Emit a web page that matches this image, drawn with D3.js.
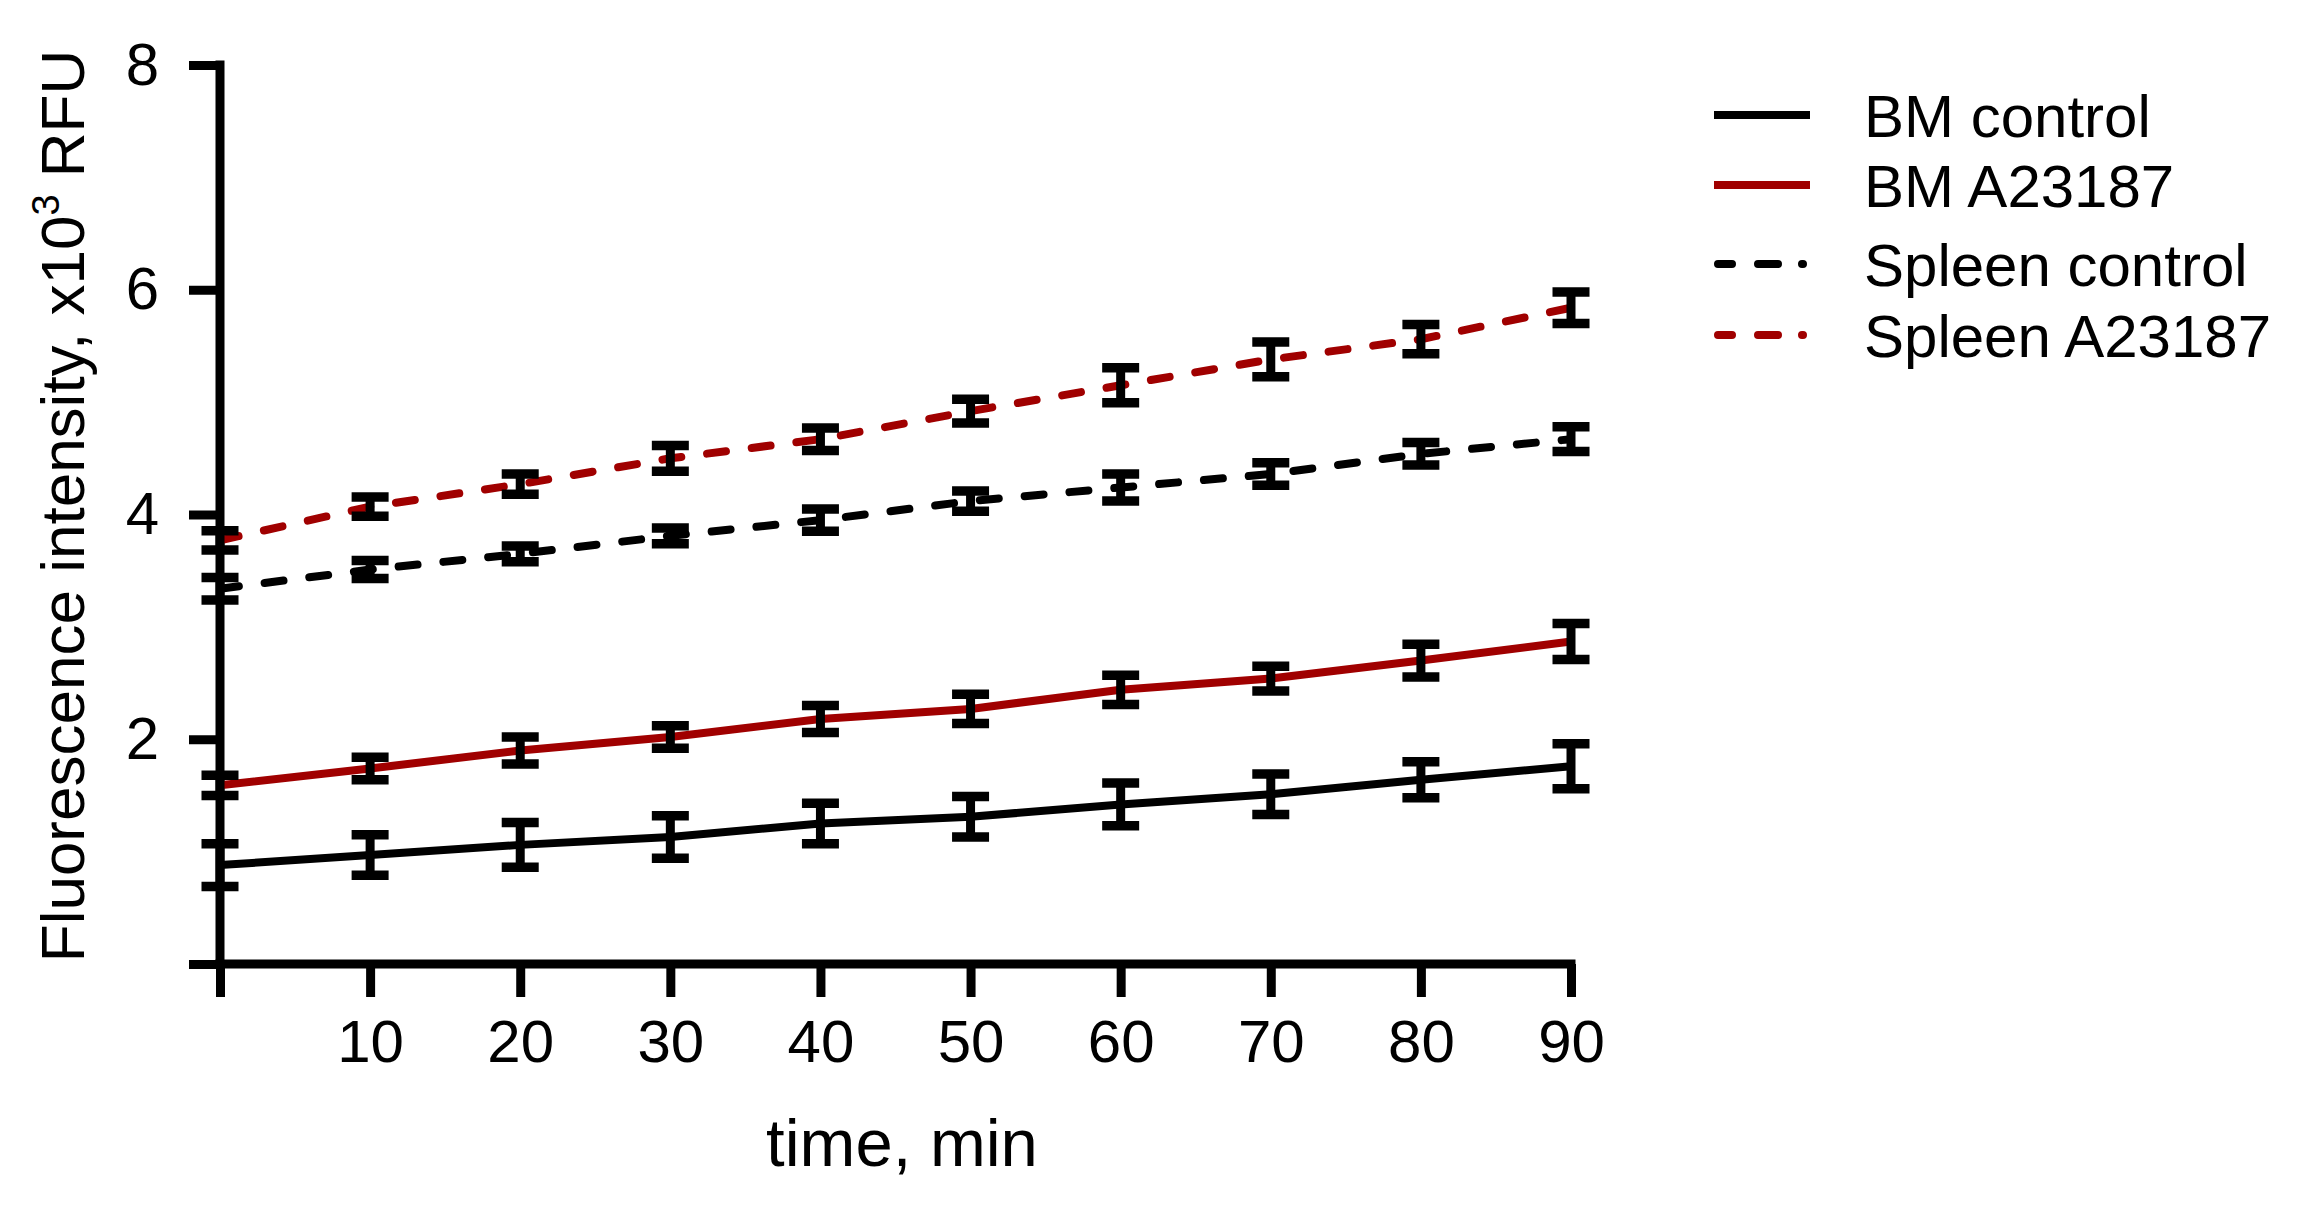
<!DOCTYPE html>
<html>
<head>
<meta charset="utf-8">
<script src="https://cdn.jsdelivr.net/npm/d3@7"></script>
<style>
  html, body { margin: 0; padding: 0; background: #fff; }
  svg { display: block; }
  text { font-family: "Liberation Sans", Arial, Helvetica, sans-serif; fill: #000; }
</style>
</head>
<body>
<svg id="chart" width="2298" height="1219"></svg>
<script>
// ---- data ----
const times = [0, 10, 20, 30, 40, 50, 60, 70, 80, 90];
const bmControl      = [0.88, 0.97, 1.06, 1.13, 1.25, 1.31, 1.42, 1.51, 1.64, 1.76];
const bmControlErr   = [0.19, 0.18, 0.20, 0.19, 0.18, 0.18, 0.19, 0.18, 0.16, 0.20];
const bmA23187       = [1.59, 1.74, 1.90, 2.02, 2.18, 2.27, 2.44, 2.54, 2.70, 2.87];
const bmA23187Err    = [0.09, 0.10, 0.12, 0.10, 0.12, 0.13, 0.13, 0.11, 0.145, 0.16];
const spleenControl  = [3.34, 3.51, 3.65, 3.81, 3.95, 4.12, 4.24, 4.36, 4.54, 4.67];
const spleenControlErr = [0.10, 0.08, 0.07, 0.07, 0.10, 0.09, 0.12, 0.10, 0.10, 0.11];
const spleenA23187   = [3.77, 4.07, 4.27, 4.50, 4.67, 4.92, 5.15, 5.38, 5.56, 5.84];
const spleenA23187Err = [0.085, 0.085, 0.09, 0.115, 0.10, 0.105, 0.155, 0.155, 0.13, 0.14];
const seriesNames = ["BM control", "BM A23187", "Spleen control", "Spleen A23187"];
const xTicks = [0, 10, 20, 30, 40, 50, 60, 70, 80, 90];
const yTicks = [0, 2, 4, 6, 8];
const xTitle = "time, min";

const seriesList = [
  { name: seriesNames[0], values: bmControl, err: bmControlErr, color: "#000000", dashed: false },
  { name: seriesNames[1], values: bmA23187, err: bmA23187Err, color: "#a00000", dashed: false },
  { name: seriesNames[2], values: spleenControl, err: spleenControlErr, color: "#000000", dashed: true },
  { name: seriesNames[3], values: spleenA23187, err: spleenA23187Err, color: "#a00000", dashed: true }
];

// ---- layout ----
const svg = d3.select("#chart");
const x = d3.scaleLinear().domain([0, 90]).range([220, 1571]);
const y = d3.scaleLinear().domain([0, 8]).range([964, 65]);
const AXW = 9, LW = 8, DASH = "19,26";

// axes
const gx = svg.append("g").attr("transform", `translate(0,${y(0)})`)
  .call(d3.axisBottom(x).tickValues(xTicks).tickSize(33).tickSizeOuter(0).tickPadding(22)
    .tickFormat(d => d === 0 ? "" : d));
const gy = svg.append("g").attr("transform", `translate(${x(0)},0)`)
  .call(d3.axisLeft(y).tickValues(yTicks).tickSize(31).tickSizeOuter(0).tickPadding(30)
    .tickFormat(d => d === 0 ? "" : d));
[gx, gy].forEach(g => {
  g.select(".domain").attr("stroke", "#000").attr("stroke-width", AXW);
  g.selectAll(".tick line").attr("stroke", "#000").attr("stroke-width", AXW);
  g.selectAll(".tick text").attr("font-size", 60).attr("fill", "#000")
    .style("font-family", '"Liberation Sans", Arial, sans-serif');
});
gx.select(".domain").attr("d", `M${x(0) - AXW/2},0H${x(90) + AXW/2}`);
gy.select(".domain").attr("d", `M0,${y(8) - AXW/2}V${y(0) + AXW/2}`);

// lines
const line = d3.line().x((d, i) => x(times[i])).y(d => y(d));
seriesList.forEach(s => {
  svg.append("path").datum(s.values)
    .attr("d", line)
    .attr("fill", "none")
    .attr("stroke", s.color)
    .attr("stroke-width", LW)
    .attr("stroke-linecap", s.dashed ? "round" : "butt")
    .attr("stroke-dasharray", s.dashed ? DASH : null);
});

// error bars (black)
const capHalf = 18.5;
seriesList.forEach(s => {
  const g = svg.append("g");
  s.values.forEach((v, i) => {
    const cx = x(times[i]);
    const top = y(v + s.err[i]), bot = y(v - s.err[i]);
    g.append("line").attr("x1", cx).attr("x2", cx).attr("y1", top).attr("y2", bot)
      .attr("stroke", "#000").attr("stroke-width", 9);
    [top, bot].forEach(yy => {
      g.append("line").attr("x1", cx - capHalf).attr("x2", cx + capHalf)
        .attr("y1", yy).attr("y2", yy).attr("stroke", "#000").attr("stroke-width", 9.5);
    });
  });
});

// axis titles
svg.append("text").attr("x", 902).attr("y", 1166)
  .attr("text-anchor", "middle").attr("font-size", 67).text(xTitle);

const yt = svg.append("text").attr("transform", `translate(84,506) rotate(-90)`)
  .attr("text-anchor", "middle").attr("font-size", 62);
yt.append("tspan").text("Fluorescence intensity, x10");
yt.append("tspan").attr("font-size", 38).attr("dy", -25).text("3");
yt.append("tspan").attr("dy", 25).text(" RFU");

// legend
const legY = [115, 185, 264, 335];
seriesList.forEach((s, i) => {
  svg.append("line").attr("x1", s.dashed ? 1718 : 1714).attr("x2", s.dashed ? 1812 : 1810)
    .attr("y1", legY[i]).attr("y2", legY[i])
    .attr("stroke", s.color).attr("stroke-width", 8)
    .attr("stroke-linecap", s.dashed ? "round" : "butt")
    .attr("stroke-dasharray", s.dashed ? "14,26,20,24,1,50" : null);
  svg.append("text").attr("x", 1864).attr("y", legY[i] + 22)
    .attr("font-size", 60).text(s.name);
});
</script>
</body>
</html>
